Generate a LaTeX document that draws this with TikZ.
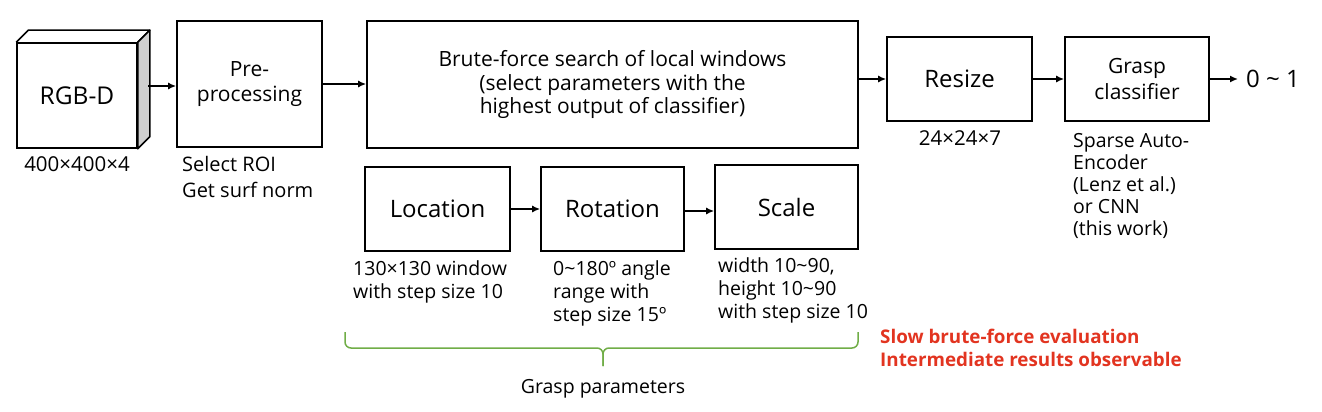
\documentclass[tikz,border=0pt]{standalone}
\usepackage{fontspec}
\setmainfont{Open Sans}
\usetikzlibrary{arrows.meta,calc}
\definecolor{bracegreen}{RGB}{112,173,71}
\definecolor{redtext}{RGB}{226,52,32}
\definecolor{sidegray}{RGB}{208,208,208}
\begin{document}
\begin{tikzpicture}[x=1pt,y=-1pt,
 box/.style={draw,line width=1.6pt,inner sep=0pt,align=center},
 big/.style={font=\fontsize{24}{28}\selectfont},
 mid/.style={font=\fontsize{21}{24.5}\selectfont},
 small/.style={font=\fontsize{19.5}{23}\selectfont},
 note/.style={small,inner sep=0pt,align=left,anchor=west},
 arr/.style={line width=1.6pt,-{Latex[length=8pt,width=7pt]}},
 bracestyle/.style={draw=bracegreen,line width=1.5pt,rounded corners=6pt},
]
\useasboundingbox (0,0) rectangle (1322,412);

% RGB-D cube
\node[box,big,minimum width=120pt,minimum height=105pt,font=\fontsize{24.5}{28}\selectfont] (rgb) at (77,95.5) {RGB-D};
\draw[line width=1.6pt,line join=round] (rgb.north west) -- ++(12,-12) -- ($(rgb.north east)+(12,-12)$) -- (rgb.north east);
\draw[line width=1.6pt,line join=round,fill=sidegray] (rgb.north east) -- ++(12,-12) -- ($(rgb.south east)+(12,-12)$) -- (rgb.south east) -- cycle;
\node[small,inner sep=0pt,font=\fontsize{20.5}{23}\selectfont] (dim1) at (77,164) {400×400×4};

% Pre-processing
\node[box,minimum width=145pt,minimum height=126pt,font=\fontsize{21}{25}\selectfont] (pre) at (249.5,84) {Pre-\\processing};
\node[note,font=\fontsize{20}{26}\selectfont] (prenote) at (182,177) {Select ROI\\Get surf norm};

% Brute-force
\node[box,minimum width=491pt,minimum height=127pt,font=\fontsize{21}{23.5}\selectfont] (brute) at (612.5,84.5) {Brute-force search of local windows\\(select parameters with the\\highest output of classifier)};

% Resize
\node[box,big,minimum width=145pt,minimum height=84pt] (resize) at (959.5,79) {Resize};
\node[small,inner sep=0pt,font=\fontsize{20.5}{23}\selectfont] (dim2) at (960,138) {24×24×7};

% Grasp classifier
\node[box,minimum width=144pt,minimum height=84pt,font=\fontsize{21}{26}\selectfont] (grasp) at (1137,79) {Grasp\\classifier};
\node[note,font=\fontsize{19.5}{22}\selectfont] (gnote) at (1073,186) {Sparse Auto-\\Encoder\\(Lenz et al.)\\or CNN\\(this work)};
\coordinate (out) at (1238,79);
\node[big,inner sep=0pt,anchor=west] (result) at (1246,79) {0 \textasciitilde{} 1};

% Lower boxes
\node[box,big,minimum width=145pt,minimum height=84pt] (loc) at (437.5,209) {Location};
\node[box,big,minimum width=143pt,minimum height=84pt] (rot) at (612.5,209) {Rotation};
\node[box,big,minimum width=143pt,minimum height=84pt] (scale) at (786.5,207) {Scale};
\node[note] (locnote) at (353,281.5) {130×130 window\\with step size 10};
\node[note] (rotnote) at (553,293) {0\textasciitilde180º angle\\range with\\step size 15º};
\node[note] (scalenote) at (718,290) {width 10\textasciitilde90,\\height 10\textasciitilde90\\with step size 10};

% Arrows
\coordinate (cs) at (148,86);
\draw[arr] (cs) -- (cs -| pre.west);
\draw[arr] (pre.east) -- (pre.east -| brute.west);
\draw[arr] (brute.east |- resize.west) -- (resize.west);
\draw[arr] (resize.east) -- (grasp.west);
\draw[arr] (grasp.east) -- (out);
\draw[arr] (loc.east) -- (loc.east -| rot.west);
\coordinate (rs) at (rot.east |- 0,211);
\draw[arr] (rs) -- (rs -| scale.west);

% Brace
\coordinate (bl) at (345,332);
\coordinate (br) at (858,332);
\coordinate (bm) at (603,348);
\coordinate (bt) at (603,366);
\draw[bracestyle] (bl) |- (bm) -- (bt);
\draw[bracestyle] (br) |- (bm) -- (bt);
\node[small,inner sep=0pt] (gp) at (603,389) {Grasp parameters};

% Red note
\node[note,text=redtext,font=\bfseries\fontsize{18.8}{23}\selectfont] (rednote) at (880,347.5) {Slow brute-force evaluation\\Intermediate results observable};
\end{tikzpicture}
\end{document}
